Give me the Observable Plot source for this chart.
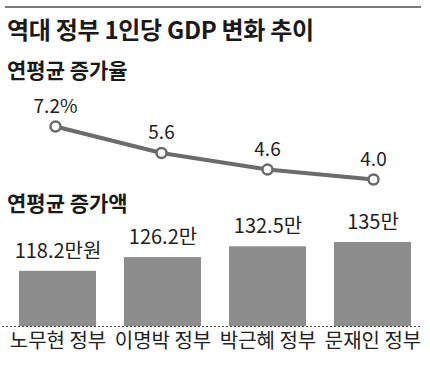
<!DOCTYPE html>
<html><head><meta charset="utf-8">
<script src="https://cdn.jsdelivr.net/npm/d3@7"></script>
<script src="https://cdn.jsdelivr.net/npm/@observablehq/plot@0.6"></script>
<style>
body{margin:0;background:#fff;font-family:"Noto Sans CJK KR",sans-serif;}
#wrap{position:relative;width:430px;height:365px;overflow:hidden;background:#fff;}
.rule{position:absolute;left:5px;top:6px;width:416px;height:2px;background:#7a7a7a;}
.title{position:absolute;left:7px;top:17px;font-size:24px;font-weight:700;color:#1a1a1a;letter-spacing:-0.3px;line-height:1;z-index:2;white-space:nowrap;}
.sub{position:absolute;left:7px;font-size:21px;font-weight:700;color:#1a1a1a;line-height:1;z-index:2;white-space:nowrap;}
#line,#bar{position:absolute;left:0;z-index:1;}
</style></head>
<body>
<div id="wrap">
  <div class="rule"></div>
  <div class="title">역대 정부 1인당 GDP 변화 추이</div>
  <div class="sub" style="top:59px">연평균 증가율</div>
  <div class="sub" style="top:192px">연평균 증가액</div>
  <div id="line" style="top:90px"></div>
  <div id="bar" style="top:200px"></div>
</div>
<script>
const govs = ["노무현 정부", "이명박 정부", "박근혜 정부", "문재인 정부"];
const growthRate = [7.2, 5.6, 4.6, 4.0];
const rateLabels = ["7.2%", "5.6", "4.6", "4.0"];
const increase = [118.2, 126.2, 132.5, 135];
const increaseLabels = ["118.2만원", "126.2만", "132.5만", "135만"];

const lineData = govs.map((g, i) => ({gov: g, v: growthRate[i], label: rateLabels[i]}));
const barData = govs.map((g, i) => ({gov: g, v: increase[i], label: increaseLabels[i]}));

const font = '"Noto Sans CJK KR", sans-serif';

const linePlot = Plot.plot({
  width: 430, height: 110,
  marginLeft: 55, marginRight: 57, marginTop: 36, marginBottom: 21,
  x: {type: "point", domain: govs, padding: 0, axis: null},
  y: {domain: d3.extent(growthRate), axis: null},
  style: {background: "transparent", fontFamily: font, color: "#222", overflow: "visible"},
  marks: [
    Plot.line(lineData, {x: "gov", y: "v", stroke: "#6b6b6b", strokeWidth: 4}),
    Plot.dot(lineData, {x: "gov", y: "v", r: 5, fill: "white", stroke: "#6b6b6b", strokeWidth: 2.5}),
    Plot.text(lineData, {x: "gov", y: "v", text: "label", dy: -20, fontSize: 19, fill: "#222"})
  ]
});
document.getElementById("line").appendChild(linePlot);

const yBase = 86;
const barPlot = Plot.plot({
  width: 430, height: 165,
  marginLeft: 2, marginRight: 9, marginTop: 42, marginBottom: 39,
  x: {domain: govs, paddingInner: 0.27, paddingOuter: 0.113, align: 0.625},
  y: {domain: [yBase, d3.max(increase)], axis: null},
  style: {background: "transparent", fontFamily: font, color: "#222", overflow: "visible"},
  marks: [
    Plot.barY(barData, {x: "gov", y1: yBase, y2: "v", fill: "#8d8d8d"}),
    Plot.ruleY([yBase], {stroke: "#444", strokeWidth: 1, strokeDasharray: "2,2"}),
    Plot.text(barData, {x: "gov", y: "v", text: "label", dy: -20, fontSize: 20, fill: "#222"}),
    Plot.axisX({tickSize: 0, tickPadding: 7, fontSize: 20, label: null, fill: "#222"})
  ]
});
document.getElementById("bar").appendChild(barPlot);
</script>
</body></html>
